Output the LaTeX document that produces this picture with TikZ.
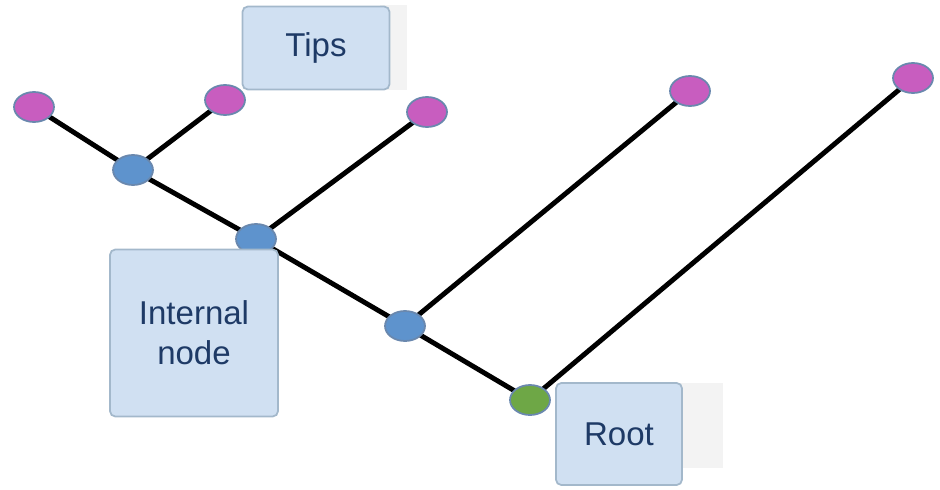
\documentclass[tikz,border=0pt]{standalone}
\usepackage{fontspec}
\setmainfont{Liberation Sans}
\usepackage{xcolor}
\usetikzlibrary{shapes.geometric,backgrounds}

\definecolor{tipfill}{HTML}{C85DBF}
\definecolor{intfill}{HTML}{5E93CD}
\definecolor{rootfill}{HTML}{6EA746}
\definecolor{dotline}{HTML}{6A88AE}
\definecolor{boxfill}{HTML}{D0E0F2}
\definecolor{boxline}{HTML}{A3B8CB}
\definecolor{boxtext}{HTML}{1E3A66}
\definecolor{backdrop}{HTML}{F3F3F3}

\begin{document}
\begin{tikzpicture}[x=0.02cm, y=-0.02cm,
  dot/.style={ellipse, draw=dotline, line width=1pt, minimum width=0.8cm, minimum height=0.6cm, inner sep=0pt},
  tip/.style={dot, fill=tipfill},
  inner/.style={dot, fill=intfill},
  rootdot/.style={dot, fill=rootfill},
  lbl/.style={draw=boxline, fill=boxfill, line width=1pt, rounded corners=3pt, align=center, text=boxtext, font=\fontsize{18.8}{22.7}\selectfont, inner sep=0pt},
  br/.style={line width=2.8pt, black}]
\useasboundingbox (0,0) rectangle (940,490);
% nodes of the tree
\node[tip] (t1) at (34,107) {};
\node[tip] (t2) at (225,100) {};
\node[tip] (t3) at (427,112) {};
\node[tip] (t4) at (690,91) {};
\node[tip] (t5) at (913,78) {};
\node[inner] (n1) at (133,170) {};
\node[inner] (n2) at (256,239) {};
\node[inner] (n3) at (405,326) {};
\node[rootdot] (r) at (530,400) {};
% branches, behind the dots
\begin{pgfonlayer}{background}
\fill[backdrop] (380,5) rectangle (407,90);
\fill[backdrop] (672,383) rectangle (723,468);
\draw[br] (t1.center) -- (n1.center);
\draw[br] (t2.center) -- (n1.center);
\draw[br] (n1.center) -- (n2.center);
\draw[br] (t3.center) -- (n2.center);
\draw[br] (n2.center) -- (n3.center);
\draw[br] (t4.center) -- (n3.center);
\draw[br] (n3.center) -- (r.center);
\draw[br] (t5.center) -- (r.center);
\end{pgfonlayer}
% labels
\node[lbl, minimum width=2.94cm, minimum height=1.66cm] (tips) at (316,48) {Tips};
\node[lbl, minimum width=3.36cm, minimum height=3.34cm] (internal) at (194,333) {Internal\\node};
\node[lbl, minimum width=2.52cm, minimum height=2.04cm] (root) at (619,434) {Root};
\end{tikzpicture}
\end{document}
